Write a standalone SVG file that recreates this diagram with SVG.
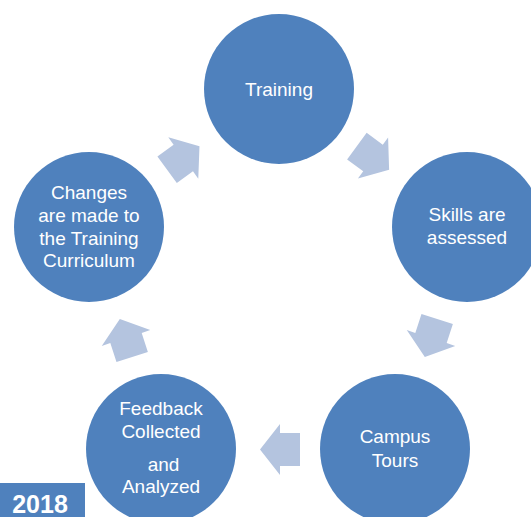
<svg xmlns="http://www.w3.org/2000/svg" width="531" height="517" viewBox="0 0 531 517">
  <style>
    .node { fill: #4F81BD; }
    .lbl { font-family: "Liberation Sans", Arial, sans-serif; font-size: 19px; fill: #FFFFFF; text-anchor: middle; }
    .arrow { fill: #B4C4DF; }
    .year { font-family: "Liberation Sans", Arial, sans-serif; font-size: 25px; font-weight: bold; fill: #FFFFFF; text-anchor: middle; }
  </style>
  <defs>
    <polygon id="arr" points="-20,-16.5 0,-16.5 0,-25.5 20,0 0,25.5 0,16.5 -20,16.5"/>
  </defs>
  <rect width="531" height="517" fill="#FFFFFF"/>

  <g id="connectors">
    <use href="#arr" class="arrow" transform="translate(183.3,158) rotate(-36)"/>
    <use href="#arr" class="arrow" transform="translate(373,158) rotate(36.3)"/>
    <use href="#arr" class="arrow" transform="translate(431,338) rotate(108)"/>
    <use href="#arr" class="arrow" transform="translate(280,449.5) rotate(180)"/>
    <use href="#arr" class="arrow" transform="translate(126,338) rotate(252)"/>
  </g>

  <g id="training">
    <circle class="node" cx="279" cy="89" r="75"/>
    <text class="lbl" x="279" y="95.5">Training</text>
  </g>
  <g id="skills">
    <circle class="node" cx="467" cy="227" r="75"/>
    <text class="lbl" x="467" y="221">Skills are</text>
    <text class="lbl" x="467" y="244.3">assessed</text>
  </g>
  <g id="campus">
    <circle class="node" cx="395" cy="449" r="75"/>
    <text class="lbl" x="395" y="443.3">Campus</text>
    <text class="lbl" x="395" y="466.7">Tours</text>
  </g>
  <g id="feedback">
    <circle class="node" cx="161" cy="449" r="75"/>
    <text class="lbl" x="161" y="415">Feedback</text>
    <text class="lbl" x="161" y="438.3">Collected</text>
    <text class="lbl" x="163.5" y="471">and</text>
    <text class="lbl" x="161" y="493.3">Analyzed</text>
  </g>
  <g id="changes">
    <circle class="node" cx="89" cy="227" r="75"/>
    <text class="lbl" x="89" y="199.3">Changes</text>
    <text class="lbl" x="89" y="221.9">are made to</text>
    <text class="lbl" x="89" y="244.5">the Training</text>
    <text class="lbl" x="89" y="267.1">Curriculum</text>
  </g>
  <g id="year">
    <rect class="node" x="0" y="483" width="85" height="34"/>
    <text class="year" x="40" y="513">2018</text>
  </g>
</svg>
